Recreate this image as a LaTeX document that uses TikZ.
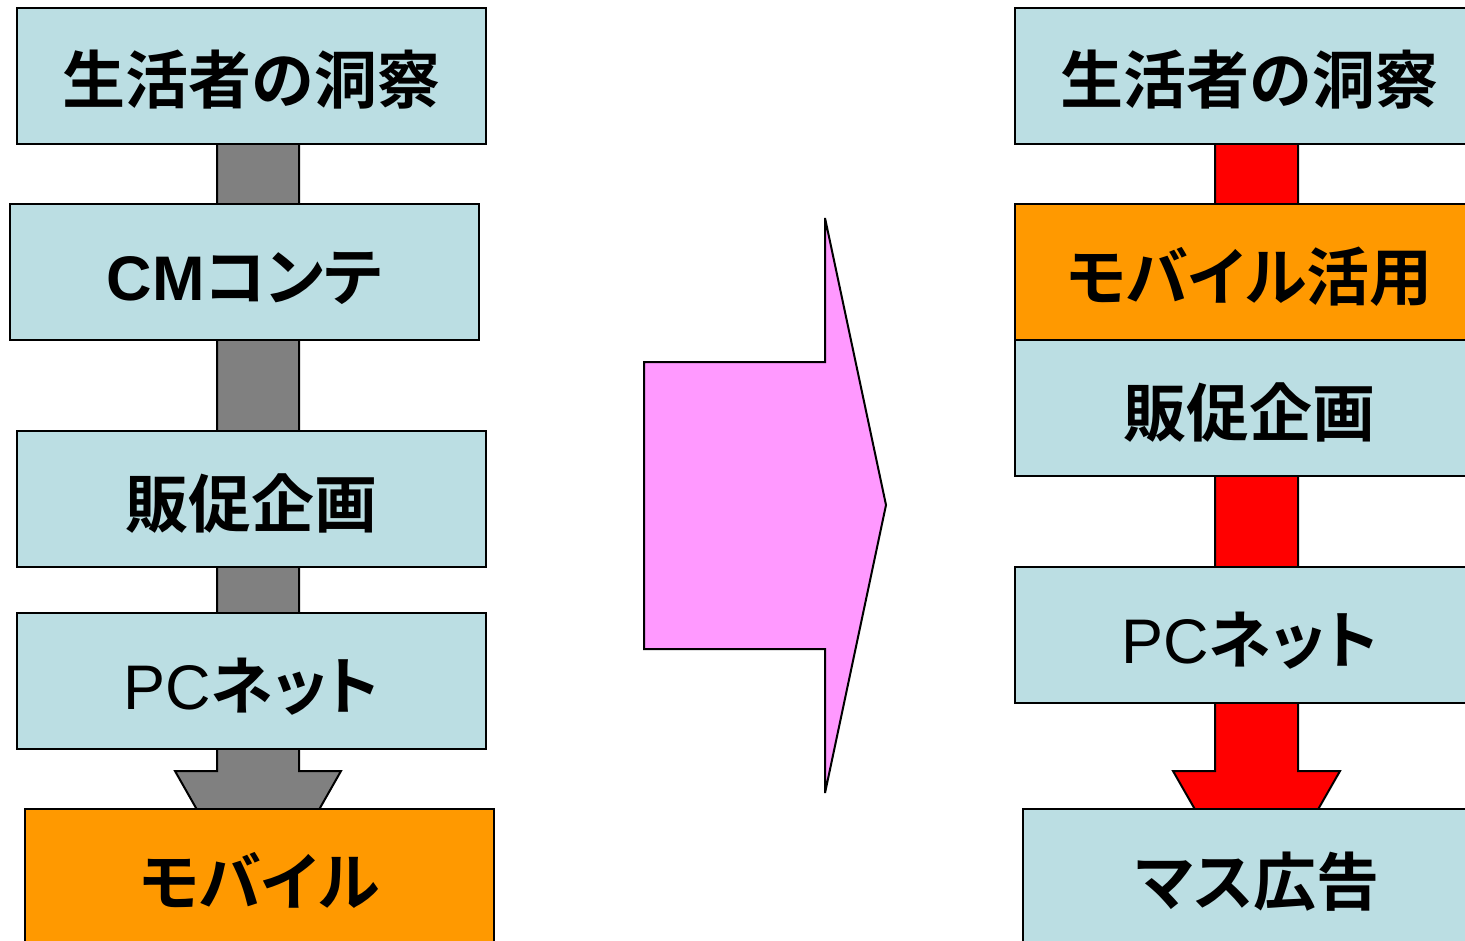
\documentclass[tikz,border=0pt]{standalone}
\usepackage{fontspec}
\newfontfamily\jp[RawFeature=+palt]{Noto Sans CJK JP Bold}
\newfontfamily\lat{Liberation Sans}
\newfontfamily\latb{Liberation Sans Bold}
\definecolor{boxblue}{HTML}{BBDEE3}
\definecolor{boxorange}{HTML}{FF9900}
\definecolor{arrgray}{HTML}{808080}
\definecolor{arrred}{HTML}{FF0000}
\definecolor{bigpink}{HTML}{FF99FF}
\newcommand{\lbl}[1]{\raisebox{-14pt}[0pt][0pt]{#1}}
\begin{document}
\begin{tikzpicture}[x=0.5pt,y=-0.5pt,
  boxbase/.style={draw=black, line width=1pt, rectangle, anchor=north west,
    minimum width=234.5pt, minimum height=68pt, inner sep=0pt,
    font=\fontsize{31.5}{31.5}\selectfont\jp},
  bluebox/.style={boxbase, fill=boxblue},
  orangebox/.style={boxbase, fill=boxorange},
  blockarrow/.style={draw=black, line width=1pt, line join=miter}]
\useasboundingbox (0,0) rectangle (1465,941);
% background block arrows
\draw[blockarrow, fill=arrgray] (217,100) -- (299,100) -- (299,771) -- (341,771) -- (258,917) -- (175,771) -- (217,771) -- cycle;
\draw[blockarrow, fill=arrred] (1215,100) -- (1298,100) -- (1298,771) -- (1340,771) -- (1256.5,917) -- (1173,771) -- (1215,771) -- cycle;
% left column
\node[bluebox] (l1) at (16,7) {\lbl{生活者の洞察}};
\node[bluebox] (l2) at (9,203) {\lbl{{\latb CM}コンテ}};
\node[bluebox] (l3) at (16,430) {\lbl{販促企画}};
\node[bluebox] (l4) at (16,612) {\lbl{{\lat PC}ネット}};
\node[orangebox] (l5) at (24,808) {\lbl{モバイル}};
% big pink arrow
\draw[blockarrow, miter limit=2, fill=bigpink] (644,362) -- (825,362) -- (825,218) -- (886,505) -- (825,793) -- (825,649) -- (644,649) -- cycle;
% right column
\node[bluebox] (r1) at (1014,7) {\lbl{生活者の洞察}};
\node[orangebox] (r2) at (1014,203) {\lbl{モバイル活用}};
\node[bluebox] (r3) at (1014,339) {\lbl{販促企画}};
\node[bluebox] (r4) at (1014,566) {\lbl{{\lat PC}ネット}};
\node[bluebox] (r5) at (1022,808) {\lbl{マス広告}};
\end{tikzpicture}
\end{document}
